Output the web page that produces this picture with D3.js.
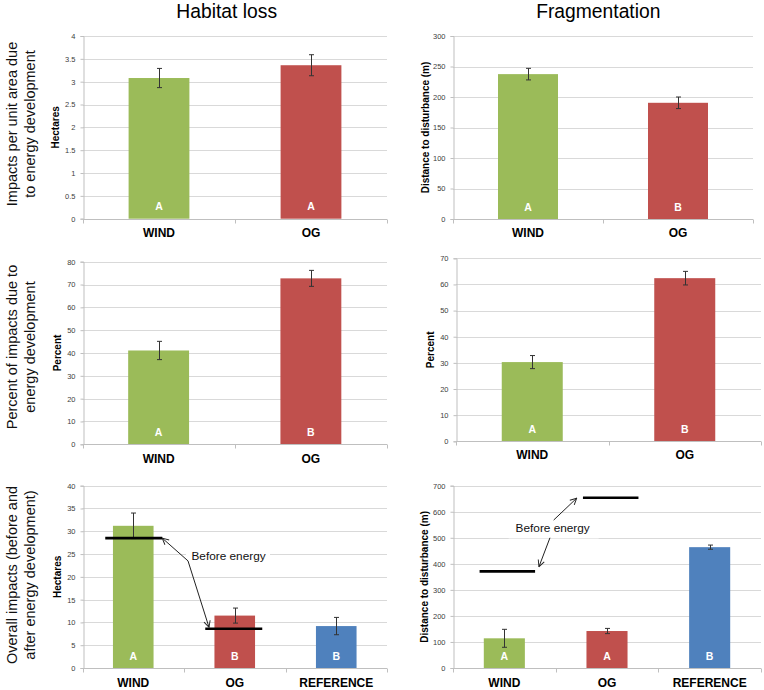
<!DOCTYPE html>
<html><head><meta charset="utf-8">
<script src="https://cdn.jsdelivr.net/npm/d3@7"></script>
<style>
html,body{margin:0;padding:0;background:#fff;}
svg{display:block;font-family:"Liberation Sans",Arial,sans-serif;}
</style></head>
<body>
<script>
// ---------- DATA ----------
const categories2 = ["WIND", "OG"];
const categories3 = ["WIND", "OG", "REFERENCE"];
const barColors = ["#9BBB59", "#C0504D", "#4F81BD"];

const habitatPerArea = [3.08, 3.36];
const habitatPerAreaErr = [0.21, 0.23];
const habitatPerAreaLetters = ["A", "A"];
const habitatPerAreaTicks = [0, 0.5, 1, 1.5, 2, 2.5, 3, 3.5, 4];

const fragPerArea = [237.5, 190.5];
const fragPerAreaErr = [9.5, 9.5];
const fragPerAreaLetters = ["A", "B"];
const fragPerAreaTicks = [0, 50, 100, 150, 200, 250, 300];

const habitatPercent = [41.1, 72.7];
const habitatPercentErr = [4.0, 3.5];
const habitatPercentLetters = ["A", "B"];
const habitatPercentTicks = [0, 10, 20, 30, 40, 50, 60, 70, 80];

const fragPercent = [30.3, 62.4];
const fragPercentErr = [2.5, 2.6];
const fragPercentLetters = ["A", "B"];
const fragPercentTicks = [0, 10, 20, 30, 40, 50, 60, 70];

const habitatOverall = [31.2, 11.5, 9.2];
const habitatOverallErr = [2.8, 1.65, 1.9];
const habitatOverallLetters = ["A", "B", "B"];
const habitatOverallTicks = [0, 5, 10, 15, 20, 25, 30, 35, 40];
const habitatBefore = [28.5, 8.6];   // WIND, OG before energy

const fragOverall = [114, 142, 464];
const fragOverallErr = [34.5, 10, 8];
const fragOverallLetters = ["A", "A", "B"];
const fragOverallTicks = [0, 100, 200, 300, 400, 500, 600, 700];
const fragBefore = [371, 654];       // WIND, OG before energy

const columnTitles = ["Habitat loss", "Fragmentation"];
const rowTitles = [
  ["Impacts per unit area due", "to energy development"],
  ["Percent of impacts due to", "energy development"],
  ["Overall impacts (before and", "after energy development)"]
];
const annotationText = "Before energy";

// ---------- LAYOUT ----------
const W = 764, H = 690;
const svg = d3.select("body").append("svg").attr("width", W).attr("height", H);

const defs = svg.append("defs");
defs.append("marker").attr("id", "arr").attr("viewBox", "0 0 10 10")
  .attr("refX", 9).attr("refY", 5).attr("markerWidth", 8).attr("markerHeight", 8)
  .attr("markerUnits", "userSpaceOnUse").attr("orient", "auto-start-reverse")
  .append("path").attr("d", "M1,1 L9,5 L1,9").attr("fill", "none")
  .attr("stroke", "#222").attr("stroke-width", 1.2);

function panel(cfg) {
  const g = svg.append("g");
  const x = d3.scaleBand().domain(cfg.cats).range([cfg.x0, cfg.x1]).paddingInner(0).paddingOuter(0);
  const y = d3.scaleLinear().domain([0, cfg.ticks[cfg.ticks.length - 1]]).range([cfg.yb, cfg.yt]);

  // gridlines
  g.append("g").selectAll("line").data(cfg.ticks.slice(1)).join("line")
    .attr("x1", cfg.x0).attr("x2", cfg.x1)
    .attr("y1", d => Math.round(y(d)) + 0.5).attr("y2", d => Math.round(y(d)) + 0.5)
    .attr("stroke", "#D9D9D9").attr("stroke-width", 1);

  // y axis
  const ya = g.append("g").attr("transform", `translate(${Math.round(cfg.x0) + 0.5},0)`)
    .call(d3.axisLeft(y).tickValues(cfg.ticks).tickSize(3).tickPadding(5).tickFormat(d3.format("")));
  ya.select(".domain").attr("stroke", "#BFBFBF");
  ya.selectAll(".tick line").attr("stroke", "#BFBFBF");
  ya.selectAll(".tick text").attr("font-size", 7.5).attr("fill", "#404040")
    .attr("font-family", "Liberation Sans, Arial, sans-serif");

  // y title
  g.append("text").attr("transform", `translate(${cfg.ytx},${(cfg.yt + cfg.yb) / 2}) rotate(-90)`)
    .attr("text-anchor", "middle").attr("font-size", 10).attr("font-weight", "bold")
    .attr("fill", "#000").text(cfg.ytitle);

  // bars
  g.append("g").selectAll("rect").data(cfg.vals).join("rect")
    .attr("x", (d, i) => x(cfg.cats[i]) + x.bandwidth() * 0.3)
    .attr("width", x.bandwidth() * 0.4)
    .attr("y", d => y(d)).attr("height", d => y(0) - y(d))
    .attr("fill", (d, i) => barColors[i]);

  // x axis line + boundary ticks
  const yb = Math.round(cfg.yb) + 0.5;
  g.append("line").attr("x1", cfg.x0).attr("x2", cfg.x1).attr("y1", yb).attr("y2", yb)
    .attr("stroke", "#BFBFBF");
  const bounds = cfg.cats.map(c => x(c)).concat([cfg.x1]);
  g.append("g").selectAll("line").data(bounds).join("line")
    .attr("x1", d => Math.round(d) + 0.5).attr("x2", d => Math.round(d) + 0.5)
    .attr("y1", yb).attr("y2", yb + 4).attr("stroke", "#BFBFBF");

  // category labels
  g.append("g").selectAll("text").data(cfg.cats).join("text")
    .attr("x", d => x(d) + x.bandwidth() / 2).attr("y", cfg.yb + cfg.labOff)
    .attr("text-anchor", "middle").attr("font-size", 12).attr("font-weight", "bold")
    .attr("fill", "#000").text(d => d);

  // letters in bars
  g.append("g").selectAll("text").data(cfg.letters).join("text")
    .attr("x", (d, i) => x(cfg.cats[i]) + x.bandwidth() / 2).attr("y", y(0) - 8.5)
    .attr("text-anchor", "middle").attr("font-size", 10.5).attr("font-weight", "bold")
    .attr("fill", "#fff").text(d => d);

  // error bars
  const eg = g.append("g").attr("stroke", "#333").attr("stroke-width", 1).attr("fill", "none");
  cfg.vals.forEach((v, i) => {
    const cx = Math.round(x(cfg.cats[i]) + x.bandwidth() / 2) + 0.5;
    const e = cfg.errs[i];
    eg.append("line").attr("x1", cx).attr("x2", cx).attr("y1", y(v + e)).attr("y2", y(v - e));
    eg.append("line").attr("x1", cx - 2.5).attr("x2", cx + 2.5).attr("y1", y(v + e)).attr("y2", y(v + e));
    eg.append("line").attr("x1", cx - 2.5).attr("x2", cx + 2.5).attr("y1", y(v - e)).attr("y2", y(v - e));
  });

  if (cfg.before) {
    g.append("g").selectAll("line").data(cfg.before).join("line")
      .attr("x1", (d, i) => x(cfg.cats[i]) + x.bandwidth() / 2 + cfg.beforeShift[i] - cfg.beforeW / 2)
      .attr("x2", (d, i) => x(cfg.cats[i]) + x.bandwidth() / 2 + cfg.beforeShift[i] + cfg.beforeW / 2)
      .attr("y1", d => y(d)).attr("y2", d => y(d))
      .attr("stroke", "#000").attr("stroke-width", 2.6);
    cfg.annotate(g, x, y);
  }
  return {x, y};
}

// column titles
[226.7, 598.3].forEach((cx, i) => {
  svg.append("text").attr("x", cx).attr("y", 17.5).attr("text-anchor", "middle")
    .attr("font-size", 19.3).attr("fill", "#000").text(columnTitles[i]);
});

// row titles
[124, 347, 575].forEach((cy, i) => {
  rowTitles[i].forEach((t, j) => {
    svg.append("text").attr("transform", `translate(${17 + j * 18.3},${cy}) rotate(-90)`)
      .attr("text-anchor", "middle").attr("font-size", 14.5).attr("fill", "#111").text(t);
  });
});

panel({cats: categories2, vals: habitatPerArea, errs: habitatPerAreaErr, letters: habitatPerAreaLetters,
  ticks: habitatPerAreaTicks, x0: 83, x1: 387, yt: 36, yb: 218.7, ytitle: "Hectares", ytx: 59.3, labOff: 18.6});
panel({cats: categories2, vals: fragPerArea, errs: fragPerAreaErr, letters: fragPerAreaLetters,
  ticks: fragPerAreaTicks, x0: 453, x1: 753, yt: 36, yb: 219, ytitle: "Distance to disturbance (m)", ytx: 428.7, labOff: 18.3});
panel({cats: categories2, vals: habitatPercent, errs: habitatPercentErr, letters: habitatPercentLetters,
  ticks: habitatPercentTicks, x0: 82.5, x1: 387, yt: 261.7, yb: 444.3, ytitle: "Percent", ytx: 61, labOff: 18.4});
panel({cats: categories2, vals: fragPercent, errs: fragPercentErr, letters: fragPercentLetters,
  ticks: fragPercentTicks, x0: 456, x1: 761, yt: 258.3, yb: 441.3, ytitle: "Percent", ytx: 434.3, labOff: 18});

function annoText(g, cx, cy, anchor) {
  return g.append("text").attr("x", cx).attr("y", cy + 4).attr("text-anchor", anchor)
    .attr("font-size", 11.8).attr("fill", "#111").text(annotationText);
}

panel({cats: categories3, vals: habitatOverall, errs: habitatOverallErr, letters: habitatOverallLetters,
  ticks: habitatOverallTicks, x0: 82.5, x1: 387, yt: 485.7, yb: 668, ytitle: "Hectares", ytx: 60.7, labOff: 18.7,
  before: habitatBefore, beforeW: 57, beforeShift: [0.5, -1],
  annotate: (g, x, y) => {
    const xo = x("OG");
    g.append("rect").attr("x", xo + 2).attr("y", y(24.6) - 10).attr("width", 84).attr("height", 20).attr("fill", "#fff");
    annoText(g, xo + 7.5, y(24.6), "start");
    const wEnd = x("WIND") + x.bandwidth() / 2 + 0.5 + 28.5;
    g.append("path").attr("d", d3.line()([[wEnd, y(habitatBefore[0])], [xo + 4, y(23.5)], [xo + 25, y(habitatBefore[1]) - 1.5]]))
      .attr("fill", "none").attr("stroke", "#222").attr("stroke-width", 1)
      .attr("marker-start", "url(#arr)").attr("marker-end", "url(#arr)");
  }});

panel({cats: categories3, vals: fragOverall, errs: fragOverallErr, letters: fragOverallLetters,
  ticks: fragOverallTicks, x0: 453, x1: 761, yt: 485.7, yb: 668, ytitle: "Distance to disturbance (m)", ytx: 428, labOff: 18.7,
  before: fragBefore, beforeW: 55.5, beforeShift: [3, 3.7],
  annotate: (g, x, y) => {
    const xo = x("OG");
    g.append("rect").attr("x", xo - 47).attr("y", y(536) - 10).attr("width", 90).attr("height", 20).attr("fill", "#fff");
    annoText(g, xo - 3, y(536), "middle");
    g.append("line").attr("x1", xo - 2).attr("y1", y(568)).attr("x2", xo + 21).attr("y2", y(652))
      .attr("stroke", "#222").attr("stroke-width", 1).attr("marker-end", "url(#arr)");
    g.append("line").attr("x1", xo - 5.7).attr("y1", y(500)).attr("x2", xo - 16.7).attr("y2", y(389))
      .attr("stroke", "#222").attr("stroke-width", 1).attr("marker-end", "url(#arr)");
  }});
</script>
</body></html>
